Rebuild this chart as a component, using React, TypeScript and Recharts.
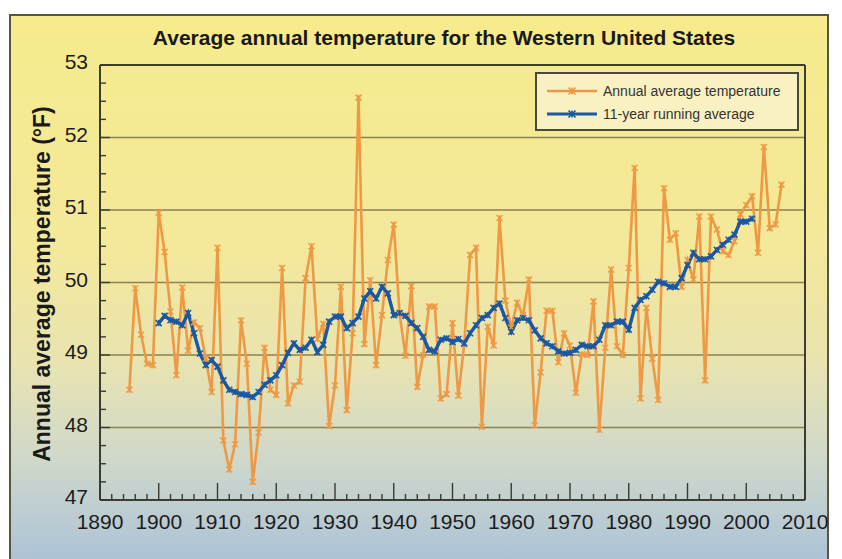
import React from 'react';
import { LineChart, Line, XAxis, YAxis, ReferenceLine } from 'recharts';

// annual values start in 1895, the running average in 1900
const ANNUAL_START = 1895;
const annualTemp = [
  48.52, 49.92, 49.28, 48.88, 48.86, 50.96, 50.42, 49.6, 48.72, 49.93,
  49.06, 49.45, 49.37, 48.95, 48.49, 50.48, 47.82, 47.42, 47.77, 49.48,
  48.88, 47.25, 47.93, 49.1, 48.52, 48.45, 50.2, 48.33, 48.58, 48.63,
  50.06, 50.5, 49.22, 49.43, 48.02, 48.58, 49.94, 48.24, 49.3, 52.55,
  49.15, 50.03, 48.86, 49.55, 50.31, 50.8, 49.56, 48.99, 49.95, 48.56,
  49.0, 49.67, 49.67, 48.4, 48.46, 49.44, 48.44, 49.15, 50.38, 50.48,
  48.01, 49.39, 49.13, 50.89, 49.75, 49.38, 49.72, 49.55, 50.04, 48.03,
  48.76, 49.61, 49.61, 48.9, 49.3, 49.13, 48.48, 49.01, 49.0, 49.74,
  47.97, 49.1, 50.18, 49.12, 49.0, 50.2, 51.58, 48.4, 49.65, 48.95,
  48.38, 51.3, 50.59, 50.68, 49.94, 50.31, 50.04, 50.91, 48.65, 50.91,
  50.73, 50.43, 50.38, 50.57, 50.94, 51.07, 51.19, 50.41, 51.87, 50.75,
  50.8, 51.35,
];

const AVG_START = 1900;
const runningAvg = [
  49.44, 49.54, 49.48, 49.46, 49.41, 49.58, 49.3, 49.02, 48.86, 48.93,
  48.84, 48.65, 48.52, 48.49, 48.46, 48.45, 48.42, 48.49, 48.59, 48.65,
  48.72, 48.86, 49.03, 49.16, 49.07, 49.1, 49.21, 49.04, 49.14, 49.46,
  49.53, 49.53, 49.37, 49.44, 49.53, 49.78, 49.88, 49.78, 49.94, 49.85,
  49.55, 49.58, 49.54, 49.44, 49.37, 49.25, 49.07, 49.05, 49.21, 49.23,
  49.18, 49.22, 49.16, 49.3, 49.41, 49.51, 49.55, 49.65, 49.71, 49.51,
  49.32, 49.48, 49.51, 49.48, 49.34, 49.23, 49.16, 49.12, 49.05, 49.02,
  49.03, 49.07, 49.14, 49.12, 49.12, 49.21, 49.41, 49.41, 49.46, 49.46,
  49.35, 49.65, 49.76, 49.81, 49.9, 50.01, 49.99, 49.94, 49.94, 50.06,
  50.24, 50.41, 50.32, 50.32, 50.36, 50.45, 50.52, 50.59, 50.66, 50.84,
  50.84, 50.88,
];

const xLabels = [1890, 1900, 1910, 1920, 1930, 1940, 1950, 1960, 1970, 1980, 1990, 2000, 2010];
const yLabels = [47, 48, 49, 50, 51, 52, 53];

const ORANGE = '#ee9a45';
const BLUE = '#1b58a3';
const FONT = '"Liberation Sans", Arial, sans-serif';

const data = annualTemp.map((v, i) => {
  const year = ANNUAL_START + i;
  const j = year - AVG_START;
  return { year, annual: v, avg: j >= 0 && j < runningAvg.length ? runningAvg[j] : null };
});

// minor ticks: every 2 years, every quarter degree
const xTicks: number[] = [];
for (let y = xLabels[0]; y <= xLabels[xLabels.length - 1]; y += 2) xTicks.push(y);
const yTicks: number[] = [];
for (let v = yLabels[0]; v <= yLabels[yLabels.length - 1] + 0.001; v += 0.25) yTicks.push(+v.toFixed(2));

const Star = ({ cx, cy, color, s, w }: any) => (
  <g stroke={color} strokeWidth={w}>
    <line x1={cx - s} y1={cy - s} x2={cx + s} y2={cy + s} />
    <line x1={cx - s} y1={cy + s} x2={cx + s} y2={cy - s} />
    <line x1={cx} y1={cy - s} x2={cx} y2={cy + s} />
  </g>
);

const makeDot = (color: string, s: number, w: number) => (props: any) => {
  const { cx, cy, index, value } = props;
  if (cx == null || cy == null || value == null) return <g key={`e-${index}`} />;
  return <Star key={`d-${index}`} cx={cx} cy={cy} color={color} s={s} w={w} />;
};

const XTick = ({ x, y, payload }: any) => {
  const v = payload.value;
  const major = v % 10 === 0;
  return (
    <g>
      <line x1={x} x2={x} y1={y} y2={y - (major ? 17 : 6)} stroke="#3a3a30" strokeWidth={1.4} />
      {major && (
        <text x={x} y={y + 29} textAnchor="middle" fontSize={21} fontFamily={FONT} fill="#1c1c1c">
          {v}
        </text>
      )}
    </g>
  );
};

const YTick = ({ x, y, payload }: any) => {
  const v = payload.value;
  const major = Math.abs(v - Math.round(v)) < 1e-6;
  return (
    <g>
      <line x1={x} x2={x + (major ? 10 : 6)} y1={y} y2={y} stroke="#3a3a30" strokeWidth={1.4} />
      {major && (
        <text x={x - 12} y={y + 4} textAnchor="end" fontSize={21} fontFamily={FONT} fill="#1c1c1c">
          {v}
        </text>
      )}
    </g>
  );
};

const LegendRow = ({ color, label, lw }: any) => (
  <div style={{ display: 'flex', alignItems: 'center', height: 23 }}>
    <svg width={50} height={12} style={{ marginLeft: 10, marginRight: 6 }}>
      <line x1={0} x2={50} y1={6} y2={6} stroke={color} strokeWidth={lw} />
      <Star cx={25} cy={6} color={color} s={3.5} w={1.6} />
    </svg>
    <span>{label}</span>
  </div>
);

export default function App() {
  return (
    <div style={{ position: 'fixed', left: 0, top: 0, width: 842, height: 559, background: '#fff', overflow: 'hidden', fontFamily: FONT }}>
      <div
        style={{
          position: 'absolute', left: 9, top: 14, width: 820, height: 560, boxSizing: 'border-box',
          border: '2px solid #57573f',
          background: 'linear-gradient(to bottom, #f7eb8d 0%, #f4e89b 42%, #e9e4b0 62%, #cfd8cb 80%, #a9c0d8 100%)',
        }}
      />
      <div style={{ position: 'absolute', left: 0, width: 888, top: 26, textAlign: 'center', fontSize: 21, fontWeight: 'bold', color: '#1a1a1a' }}>
        Average annual temperature for the Western United States
      </div>
      <div
        style={{
          position: 'absolute', left: 42, top: 284, transform: 'translate(-50%, -50%) rotate(-90deg)',
          whiteSpace: 'nowrap', fontSize: 23, fontWeight: 'bold', color: '#1a1a1a',
        }}
      >
        Annual average temperature (°F)
      </div>
      <div style={{ position: 'absolute', left: 0, top: 0 }}>
        <LineChart width={842} height={559} data={data} margin={{ top: 65, right: 37, bottom: 19, left: 60 }}>
          {yLabels.slice(1, -1).map((v) => (
            <ReferenceLine key={v} y={v} stroke="#8c8150" strokeWidth={1.6} />
          ))}
          <ReferenceLine y={yLabels[yLabels.length - 1]} stroke="#3d3d33" strokeWidth={2} />
          <ReferenceLine x={xLabels[xLabels.length - 1]} stroke="#3d3d33" strokeWidth={2} />
          <XAxis
            dataKey="year"
            type="number"
            domain={[xLabels[0], xLabels[xLabels.length - 1]]}
            ticks={xTicks}
            interval={0}
            height={40}
            tickSize={0}
            tickMargin={0}
            tickLine={false}
            axisLine={{ stroke: '#3d3d33', strokeWidth: 2 }}
            tick={<XTick />}
          />
          <YAxis
            type="number"
            domain={[yLabels[0], yLabels[yLabels.length - 1]]}
            ticks={yTicks}
            interval={0}
            width={40}
            tickSize={0}
            tickMargin={0}
            tickLine={false}
            axisLine={{ stroke: '#3d3d33', strokeWidth: 2 }}
            tick={<YTick />}
          />
          <Line
            dataKey="annual"
            stroke={ORANGE}
            strokeWidth={2.6}
            dot={makeDot(ORANGE, 3, 1.5)}
            activeDot={false}
            isAnimationActive={false}
          />
          <Line
            dataKey="avg"
            stroke={BLUE}
            strokeWidth={3.4}
            dot={makeDot(BLUE, 3, 1.6)}
            activeDot={false}
            connectNulls={false}
            isAnimationActive={false}
          />
        </LineChart>
      </div>
      <div
        style={{
          position: 'absolute', left: 535, top: 72, width: 264, height: 59, boxSizing: 'border-box',
          border: '2px solid #4a4a3c', background: '#f9f1c2', fontSize: 14, color: '#333', paddingTop: 5,
        }}
      >
        <LegendRow color={ORANGE} label="Annual average temperature" lw={2.4} />
        <LegendRow color={BLUE} label="11-year running average" lw={3} />
      </div>
    </div>
  );
}
